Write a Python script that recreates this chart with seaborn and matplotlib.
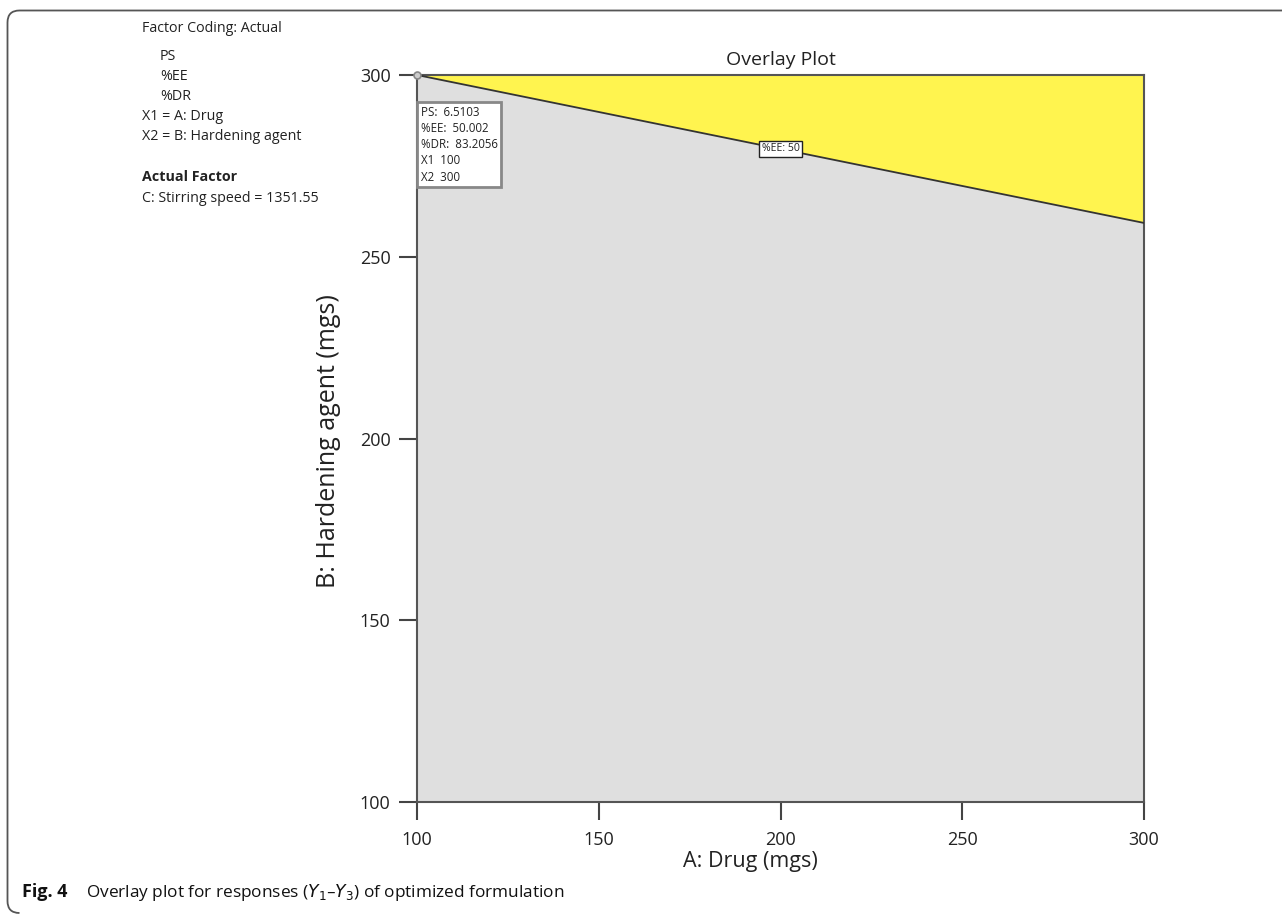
import matplotlib
matplotlib.use("Agg")
import matplotlib.pyplot as plt
import seaborn as sns
import numpy as np
import pandas as pd
from matplotlib.path import Path
from matplotlib.patches import PathPatch

# Data
boundary_x = [100, 300]
boundary_y = [300, 259.3]
x_ticks = [100, 150, 200, 250, 300]
y_ticks = [100, 150, 200, 250, 300]
opt_point = (100, 300)
opt_text = ["PS:  6.5103", "%EE:  50.002", "%DR:  83.2056", "X1  100", "X2  300"]
contour_label = "%EE: 50"
legend_lines = ["Factor Coding: Actual", "PS", "%EE", "%DR", "X1 = A: Drug", "X2 = B: Hardening agent"]

sns.set_style("ticks")
plt.rcParams['font.family'] = ['Open Sans', 'DejaVu Sans']

fig = plt.figure(figsize=(12.82, 9.19), dpi=100)
ax = fig.add_axes([417/1282, 1-802/919, 727/1282, 727/919])

df = pd.DataFrame({"x": boundary_x, "y": boundary_y})
xs = np.array(boundary_x, dtype=float)
ys = np.array(boundary_y, dtype=float)
ax.fill_between(xs, 100, ys, color="#dfdfdf", lw=0, zorder=1)
ax.fill_between(xs, ys, 300, color="#fff44f", lw=0, zorder=1)
sns.lineplot(data=df, x="x", y="y", ax=ax, color="#333333", lw=1.3, zorder=3)

ax.set_xlim(100, 300)
ax.set_ylim(100, 300)
ax.set_xticks(x_ticks)
ax.set_yticks(y_ticks)
ax.tick_params(direction="out", length=13, width=1.5, color="#444444", labelsize=13, pad=6, labelcolor="#222222")
ax.tick_params(axis="x", pad=8)
for s in ax.spines.values():
    s.set_color("#555555")
    s.set_linewidth(1.5)
ax.set_xlabel("A: Drug (mgs)", fontsize=15.5, color="#222222")
ax.xaxis.set_label_coords(0.458, -0.067)
ax.set_ylabel("B: Hardening agent (mgs)", fontsize=18, color="#222222")
ax.yaxis.set_label_coords(-0.105, 0.497)
ax.set_title("Overlay Plot", fontsize=14, color="#222222", pad=7)

# optimum point
ax.plot([opt_point[0]], [opt_point[1]], marker="o", ms=5, mfc="#cccccc", mec="#888888", mew=1.2,
        clip_on=False, zorder=6)
ax.text(101.0, 291.6, "\n".join(opt_text), fontsize=8.3, va="top", ha="left", color="#222222",
        linespacing=1.33, zorder=7,
        bbox=dict(boxstyle="square,pad=0.3", fc="white", ec="#888888", lw=2))

ax.text(200, 279.7, contour_label, fontsize=7.6, ha="center", va="center", color="#222222", zorder=7,
        bbox=dict(boxstyle="square,pad=0.25", fc="white", ec="#222222", lw=1))

# left panel text
fs = 10.3
ys_px = [28, 56, 76, 96, 117, 137]
xs_px = [142, 160, 160, 160, 142, 142]
for t, xp, yp in zip(legend_lines, xs_px, ys_px):
    fig.text(xp/1282, 1-yp/919, t, fontsize=fs, va="center", ha="left", color="#222222")
fig.text(142/1282, 1-177/919, "Actual Factor", fontsize=fs, va="center", ha="left", weight="bold", color="#222222")
fig.text(142/1282, 1-198/919, "C: Stirring speed = 1351.55", fontsize=fs, va="center", ha="left", color="#222222")

# caption
fig.text(22/1282, 1-897/919, "Fig. 4", fontsize=13, weight="bold", va="baseline", ha="left", color="#111111")
fig.text(86/1282, 1-897/919, r"Overlay plot for responses ($Y_1$–$Y_3$) of optimized formulation",
         fontsize=12.4, va="baseline", ha="left", color="#111111")

# outer frame (top and left edges, rounded corners)
W, H = 1282, 919
r = 12
x0, y0 = 7.5, 10.5
yb = 913
verts = [((W+5)/W, 1-y0/H), ((x0+r)/W, 1-y0/H), (x0/W, 1-y0/H), (x0/W, 1-(y0+r)/H),
         (x0/W, 1-(yb-r)/H), (x0/W, 1-yb/H), ((x0+r)/W, 1-yb/H)]
codes = [Path.MOVETO, Path.LINETO, Path.CURVE3, Path.CURVE3, Path.LINETO, Path.CURVE3, Path.CURVE3]
fig.add_artist(PathPatch(Path(verts, codes), transform=fig.transFigure, fill=False, ec="#555555", lw=1.3))

fig.savefig("out.png", dpi=100)
